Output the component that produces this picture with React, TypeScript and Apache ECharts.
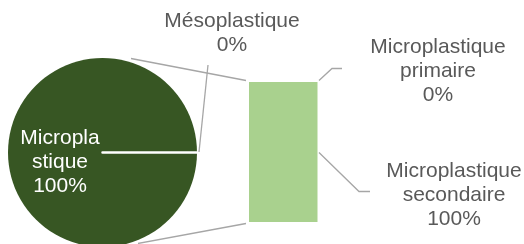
import React, { useEffect, useRef } from "react";
import * as echarts from "echarts";

const pieNames = ["Microplastique", "Mésoplastique"];
const pieValues = [100, 0];
const barCategories = ["Autres"];
const barSeriesNames = ["Microplastique secondaire", "Microplastique primaire"];
const barSecondaire = [100];
const barPrimaire = [0];

const FONT = "'Liberation Sans', Arial, sans-serif";
const TEXT = "#595959";
const LINE = "#A6A6A6";

export default function App() {
  const ref = useRef<HTMLDivElement>(null);
  useEffect(() => {
    if (!ref.current) return;
    const chart = echarts.init(ref.current, undefined, { renderer: "svg" });
    const pieLabelPos = [
      { x: 60, y: 160 },
      { x: 232, y: 31 },
    ];
    const barLabelPos = [
      { x: 454, y: 193 },
      { x: 438, y: 69 },
    ];
    const barData = [barSecondaire, barPrimaire];
    chart.setOption({
      animation: false,
      textStyle: { fontFamily: FONT },
      grid: { left: 249, top: 82, width: 68.5, height: 140, containLabel: false },
      xAxis: { type: "category", data: barCategories, show: false },
      yAxis: { type: "value", min: 0, max: 100, show: false },
      graphic: [
        { type: "line", silent: true, shape: { x1: 131, y1: 58.5, x2: 246, y2: 80.5 }, style: { stroke: LINE, lineWidth: 1.3 } },
        { type: "line", silent: true, shape: { x1: 138, y1: 243.5, x2: 246, y2: 223.5 }, style: { stroke: LINE, lineWidth: 1.3 } },
        { type: "line", silent: true, shape: { x1: 199, y1: 152, x2: 208, y2: 65 }, style: { stroke: LINE, lineWidth: 1.3 } },
        { type: "polyline", silent: true, shape: { points: [[319, 80.5], [332, 68.5], [342, 68.5]] }, style: { stroke: LINE, lineWidth: 1.3, fill: "none" } },
        { type: "polyline", silent: true, shape: { points: [[319, 152.5], [359, 191.5], [370, 191.5]] }, style: { stroke: LINE, lineWidth: 1.3, fill: "none" } },
      ],
      series: [
        {
          type: "pie",
          silent: true,
          center: [102.5, 152.5],
          radius: [0, 94.5],
          startAngle: 0,
          clockwise: true,
          percentPrecision: 0,
          label: {
            show: true,
            fontSize: 21,
            lineHeight: 24,
            fontFamily: FONT,
            align: "center",
            formatter: (p: any) => `${p.name}\n${p.percent}%`,
          },
          labelLine: { show: false },
          labelLayout: (p: any) => ({
            x: pieLabelPos[p.dataIndex].x,
            y: pieLabelPos[p.dataIndex].y,
            align: "center",
            verticalAlign: "middle",
          }),
          data: pieNames.map((n, i) => ({
            name: n,
            value: pieValues[i],
            itemStyle:
              i === 0
                ? { color: "#375623", borderWidth: 0 }
                : { color: "#375623", borderColor: "#ffffff", borderWidth: 2.5 },
            label:
              i === 0
                ? { position: "inside", color: "#ffffff", width: 84, overflow: "breakAll" }
                : { position: "outside", color: TEXT },
          })),
        },
        ...barSeriesNames.map((name, si) => ({
          type: "bar",
          name,
          stack: "total",
          silent: true,
          barWidth: "100%",
          itemStyle: { color: "#A9D18E" },
          label: {
            show: true,
            color: TEXT,
            fontSize: 21,
            lineHeight: 24,
            fontFamily: FONT,
            align: "center",
            formatter: (p: any) => `${p.seriesName.replace(" ", "\n")}\n${p.value}%`,
          },
          labelLayout: {
            x: barLabelPos[si].x,
            y: barLabelPos[si].y,
            align: "center",
            verticalAlign: "middle",
          },
          data: barData[si],
        })),
      ],
    });
    return () => chart.dispose();
  }, []);
  return (
    <div
      ref={ref}
      style={{ position: "fixed", left: 0, top: 0, width: 524, height: 244 }}
    />
  );
}
